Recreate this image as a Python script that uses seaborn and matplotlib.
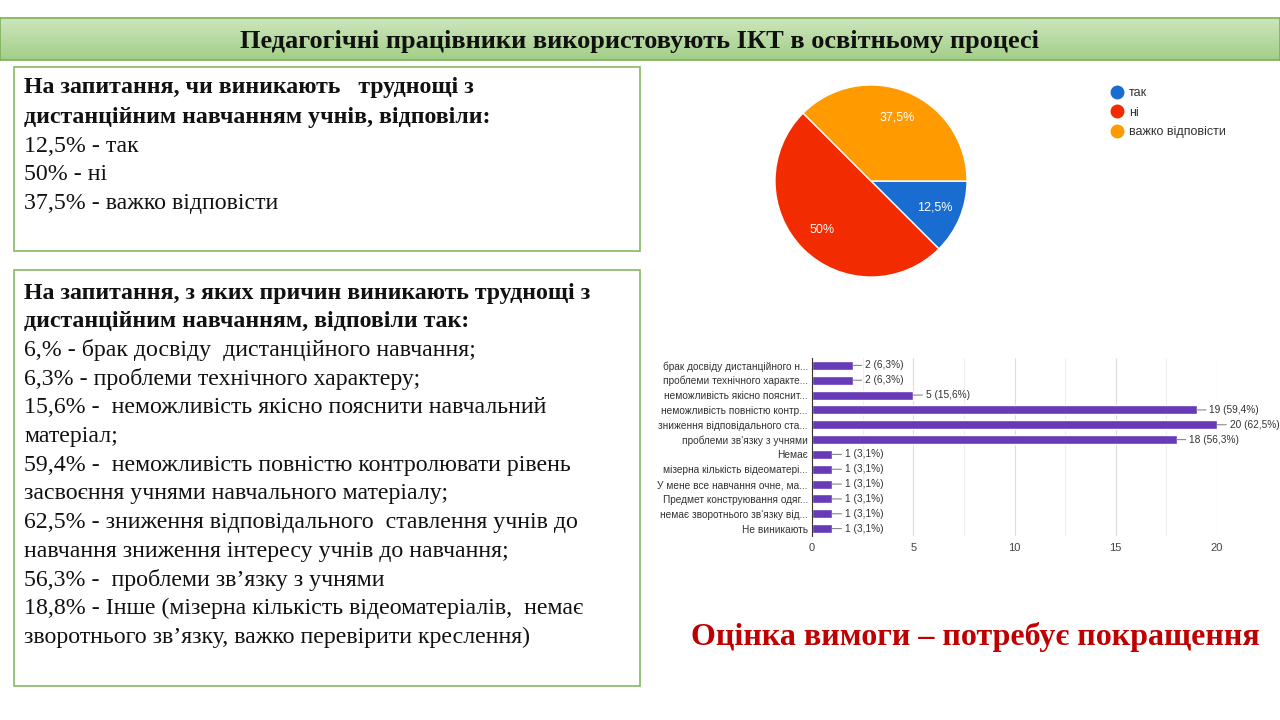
import matplotlib

matplotlib.use("Agg")

import matplotlib.pyplot as plt
import numpy as np
import pandas as pd
import seaborn as sns
from matplotlib.lines import Line2D
from matplotlib.patches import Rectangle

# ---- data -------------------------------------------------------------
slide_title = "Педагогічні працівники використовують ІКТ в освітньому процесі"

pie_labels = ["так", "ні", "важко відповісти"]
pie_values = [12.5, 50.0, 37.5]
pie_colors = ["#1a6dd0", "#f22b00", "#ff9a00"]

reason_labels = [
    "брак досвіду дистанційного н...",
    "проблеми технічного характе...",
    "неможливість якісно пояснит...",
    "неможливість повністю контр...",
    "зниження відповідального ста...",
    "проблеми зв'язку з учнями",
    "Немає",
    "мізерна кількість відеоматері...",
    "У мене все навчання очне, ма...",
    "Предмет конструювання одяг...",
    "немає зворотнього зв'язку від...",
    "Не виникають",
]
reason_counts = [2, 2, 5, 19, 20, 18, 1, 1, 1, 1, 1, 1]
reason_pcts = ["6,3%", "6,3%", "15,6%", "59,4%", "62,5%", "56,3%",
               "3,1%", "3,1%", "3,1%", "3,1%", "3,1%", "3,1%"]
bar_ticks = [0, 5, 10, 15, 20]

box1_head = [
    "На запитання, чи виникають   труднощі з",
    "дистанційним навчанням учнів, відповіли:",
]
box1_body = [
    "12,5% - так",
    "50% - ні",
    "37,5% - важко відповісти",
]
box2_head = [
    "На запитання, з яких причин виникають труднощі з",
    "дистанційним навчанням, відповіли так:",
]
box2_body = [
    "6,% - брак досвіду  дистанційного навчання;",
    "6,3% - проблеми технічного характеру;",
    "15,6% -  неможливість якісно пояснити навчальний",
    "матеріал;",
    "59,4% -  неможливість повністю контролювати рівень",
    "засвоєння учнями навчального матеріалу;",
    "62,5% - зниження відповідального  ставлення учнів до",
    "навчання зниження інтересу учнів до навчання;",
    "56,3% -  проблеми зв’язку з учнями",
    "18,8% - Інше (мізерна кількість відеоматеріалів,  немає",
    "зворотнього зв’язку, важко перевірити креслення)",
]
verdict = "Оцінка вимоги – потребує покращення"

# ---- figure -----------------------------------------------------------
sns.set_theme(style="white")
plt.rcParams["font.family"] = ["Liberation Sans", "DejaVu Sans"]

W, H = 1280, 720
fig = plt.figure(figsize=(12.8, 7.2), dpi=100)
fig.patch.set_facecolor("white")


def fx(px):
    return px / W


def fy(py):
    return 1 - py / H


# title banner with a soft green gradient
ban = fig.add_axes([0, fy(60), 1, 42 / H])
grad = np.linspace(0, 1, 64)[:, None]
top = np.array([0.80, 0.90, 0.74])
bot = np.array([0.64, 0.81, 0.53])
img = top[None, None, :] * (1 - grad[..., None]) + bot[None, None, :] * grad[..., None]
ban.imshow(np.repeat(img, 2, axis=1), aspect="auto", extent=[0, 1, 0, 1])
ban.set_xlim(0, 1)
ban.set_ylim(0, 1)
ban.set_xticks([])
ban.set_yticks([])
for s in ban.spines.values():
    s.set_color("#7cb15a")
    s.set_linewidth(1.2)
ban.text(0.5, 0.45, slide_title, ha="center", va="center", fontsize=19,
         fontweight="bold", family="Liberation Serif", color="#111111")

# text boxes
for (x0, y0, x1, y1) in [(14, 67, 640, 251), (14, 270, 640, 686)]:
    fig.add_artist(Rectangle((fx(x0), fy(y1)), fx(x1 - x0), (y1 - y0) / H,
                             transform=fig.transFigure, fill=False,
                             edgecolor="#86b865", linewidth=1.2))


def write_lines(head, body, y_start, step):
    lines = [(t, "bold") for t in head] + [(t, "normal") for t in body]
    for i, (t, w) in enumerate(lines):
        fig.text(fx(24), fy(y_start + i * step), t, ha="left", va="center",
                 fontsize=17.2, fontweight=w, family="Liberation Serif",
                 color="#111111")


write_lines(box1_head, box1_body, 88, 29)
write_lines(box2_head, box2_body, 293, 28.7)

# pie chart
pax = fig.add_axes([fx(774), fy(278), 194 / W, 194 / H])
pax.pie(
    pie_values,
    colors=pie_colors,
    startangle=0,
    counterclock=False,
    autopct=lambda p: f"{p:g}%".replace(".", ","),
    pctdistance=0.72,
    wedgeprops=dict(edgecolor="white", linewidth=1),
    textprops=dict(color="white", fontsize=9),
)
pax.set_xlim(-1.01, 1.01)
pax.set_ylim(-1.01, 1.01)
pax.set_aspect("auto")

handles = [Line2D([0], [0], marker="o", linestyle="", markersize=9,
                  markerfacecolor=c, markeredgecolor=c) for c in pie_colors]
fig.legend(handles, pie_labels, loc="upper left",
           bbox_to_anchor=(fx(1093), fy(76)), frameon=False, fontsize=9,
           handletextpad=0.0, labelspacing=0.6, labelcolor="#333333")

# bar chart
bax = fig.add_axes([fx(812), fy(536), 405 / W, 178 / H])
bars = pd.DataFrame({"reason": reason_labels, "count": reason_counts})
sns.barplot(data=bars, x="count", y="reason", color="#673ab7", saturation=1,
            width=0.6, ax=bax)
bax.set_xlim(0, 20)
bax.set_ylim(len(reason_labels) - 0.5, -0.5)
bax.set_xticks(bar_ticks)
bax.set_xticks(np.arange(2.5, 20, 5), minor=True)
bax.grid(axis="x", which="major", color="#dddddd", linewidth=0.8)
bax.grid(axis="x", which="minor", color="#eeeeee", linewidth=0.8)
bax.set_axisbelow(True)
bax.set_xlabel("")
bax.set_ylabel("")
bax.tick_params(axis="y", length=0, labelsize=7.3, labelcolor="#333333", pad=3)
bax.tick_params(axis="x", which="both", length=0, labelsize=8,
                labelcolor="#444444", pad=5)
for side in ["top", "right", "bottom"]:
    bax.spines[side].set_visible(False)
bax.spines["left"].set_color("#333333")
bax.spines["left"].set_linewidth(0.8)

for i, (c, p) in enumerate(zip(reason_counts, reason_pcts)):
    bax.annotate(f"{c} ({p})", xy=(c, i), xytext=(9, 0), textcoords="offset points",
                 ha="left", va="center", fontsize=7.3, color="#333333",
                 arrowprops=dict(arrowstyle="-", color="#888888", lw=0.8,
                                 shrinkA=0, shrinkB=0))

fig.text(fx(975), fy(637), verdict, ha="center", va="center", fontsize=23,
         fontweight="bold", family="Liberation Serif", color="#c00000")

fig.savefig("out.png", dpi=100)
